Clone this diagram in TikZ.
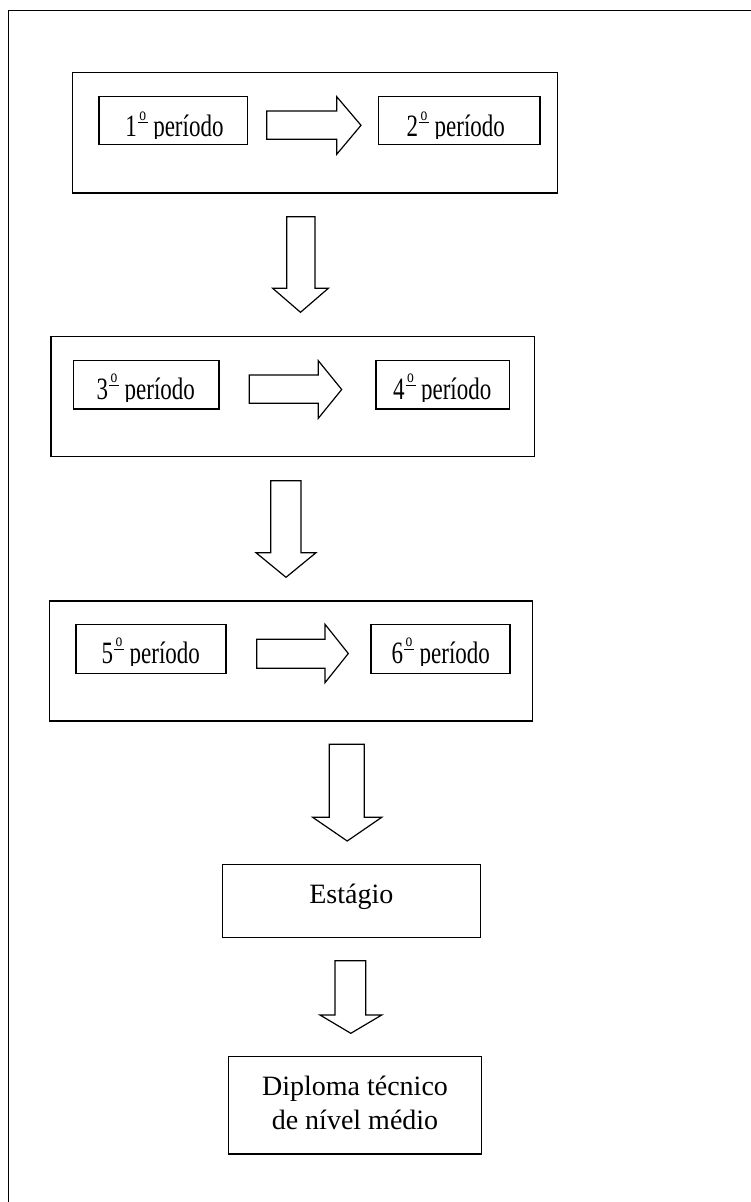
\documentclass[tikz,border=0pt]{standalone}
\usepackage{fontspec}
\setmainfont{Liberation Serif}
\newcommand{\ordsup}{\hspace{1pt}\rlap{\rule[9.9pt]{10pt}{0.75pt}}\hspace{1.5pt}\raisebox{12.3pt}{\fontsize{13.5}{13.5}\selectfont o}\hspace{1.5pt}}
\newcommand{\pertxt}[1]{\scalebox{1}[1.35]{#1\ordsup{} período}}
\begin{document}
\begin{tikzpicture}[x=1pt,y=-1pt,line join=miter,
  box/.style={draw,line width=1.2pt,inner sep=0pt},
  blockarrow/.style={draw,line width=1.2pt,line join=miter},
  pertext/.style={anchor=base,inner sep=0pt,font=\fontsize{23}{28}\selectfont},
  bigtext/.style={anchor=base,inner sep=0pt,font=\fontsize{28}{34}\selectfont}]
\useasboundingbox (0,0) rectangle (751,1202);
% page frame (top and left edges)
\draw[line width=1.8pt] (8.5,1202) -- (8.5,10.5) -- (751,10.5);
% outer group boxes
\node[box,minimum width=485pt,minimum height=120.3pt] (o1) at (315.2,132.85) {};
\node[box,minimum width=483.3pt,minimum height=120pt] (o2) at (292.65,396.7) {};
\node[box,minimum width=483.4pt,minimum height=120pt] (o3) at (291,661) {};
% period boxes
\node[box,minimum width=148.7pt,minimum height=47.6pt] (b1) at (173.35,120.5) {};
\node[box,minimum width=161.7pt,minimum height=47.6pt] (b2) at (459.15,120.5) {};
\node[box,minimum width=145.7pt,minimum height=48.3pt] (b3) at (146.15,384.85) {};
\node[box,minimum width=133.3pt,minimum height=48.3pt] (b4) at (442.65,384.85) {};
\node[box,minimum width=150pt,minimum height=49pt] (b5) at (151,648.8) {};
\node[box,minimum width=139pt,minimum height=49pt] (b6) at (440.5,648.8) {};
% period texts (descenders clipped as in the original)
\begin{scope}\clip (99,97) rectangle (248,138.5);
\node[pertext] (t1) at (174.4,136.7) {\pertxt{1}};\end{scope}
\begin{scope}\clip (378,97) rectangle (540,138.5);
\node[pertext] (t2) at (455.8,136.7) {\pertxt{2}};\end{scope}
\begin{scope}\clip (73,361) rectangle (219,401.3);
\node[pertext] (t3) at (145.8,399.5) {\pertxt{3}};\end{scope}
\begin{scope}\clip (376,361) rectangle (509,401.3);
\node[pertext] (t4) at (442.2,399.5) {\pertxt{4}};\end{scope}
\begin{scope}\clip (76,625) rectangle (226,665);
\node[pertext] (t5) at (150.8,663) {\pertxt{5}};\end{scope}
\begin{scope}\clip (371,625) rectangle (510,665);
\node[pertext] (t6) at (440.8,663) {\pertxt{6}};\end{scope}
% final boxes
\node[box,minimum width=258pt,minimum height=73pt] (est) at (351.3,900.8) {};
\node[bigtext] (estt) at (351.3,903.3) {Estágio};
\node[box,minimum width=253.4pt,minimum height=97.3pt] (dip) at (355,1105.35) {};
\node[bigtext] (dip1) at (355,1095) {Diploma técnico};
\node[bigtext] (dip2) at (355,1129.3) {de nível médio};
% horizontal block arrows
\draw[blockarrow] (266.7,111) -- (336.7,111) -- (336.7,96.7) -- (361,125.3) -- (336.7,154.3) -- (336.7,139.3) -- (266.7,139.3) -- cycle;
\draw[blockarrow] (249.3,375) -- (318.3,375) -- (318.3,360.7) -- (341.7,389.5) -- (318.3,418.3) -- (318.3,403.3) -- (249.3,403.3) -- cycle;
\draw[blockarrow] (256.7,639.3) -- (325,639.3) -- (325,624.3) -- (348.3,653.5) -- (325,682.7) -- (325,668.3) -- (256.7,668.3) -- cycle;
% vertical block arrows
\draw[blockarrow] (286.7,216.7) -- (315,216.7) -- (315,288.3) -- (328.3,288.3) -- (300.5,312.3) -- (272.7,288.3) -- (286.7,288.3) -- cycle;
\draw[blockarrow] (270.7,480.7) -- (301,480.7) -- (301,552.7) -- (316,552.7) -- (286,577.3) -- (256,552.7) -- (270.7,552.7) -- cycle;
\draw[blockarrow] (329.3,744.3) -- (364.3,744.3) -- (364.3,817.3) -- (381.7,817.3) -- (347.2,841) -- (312.7,817.3) -- (329.3,817.3) -- cycle;
\draw[blockarrow] (335,960.7) -- (365.7,960.7) -- (365.7,1015) -- (381.7,1015) -- (350.8,1033.3) -- (320,1015) -- (335,1015) -- cycle;
\end{tikzpicture}
\end{document}
